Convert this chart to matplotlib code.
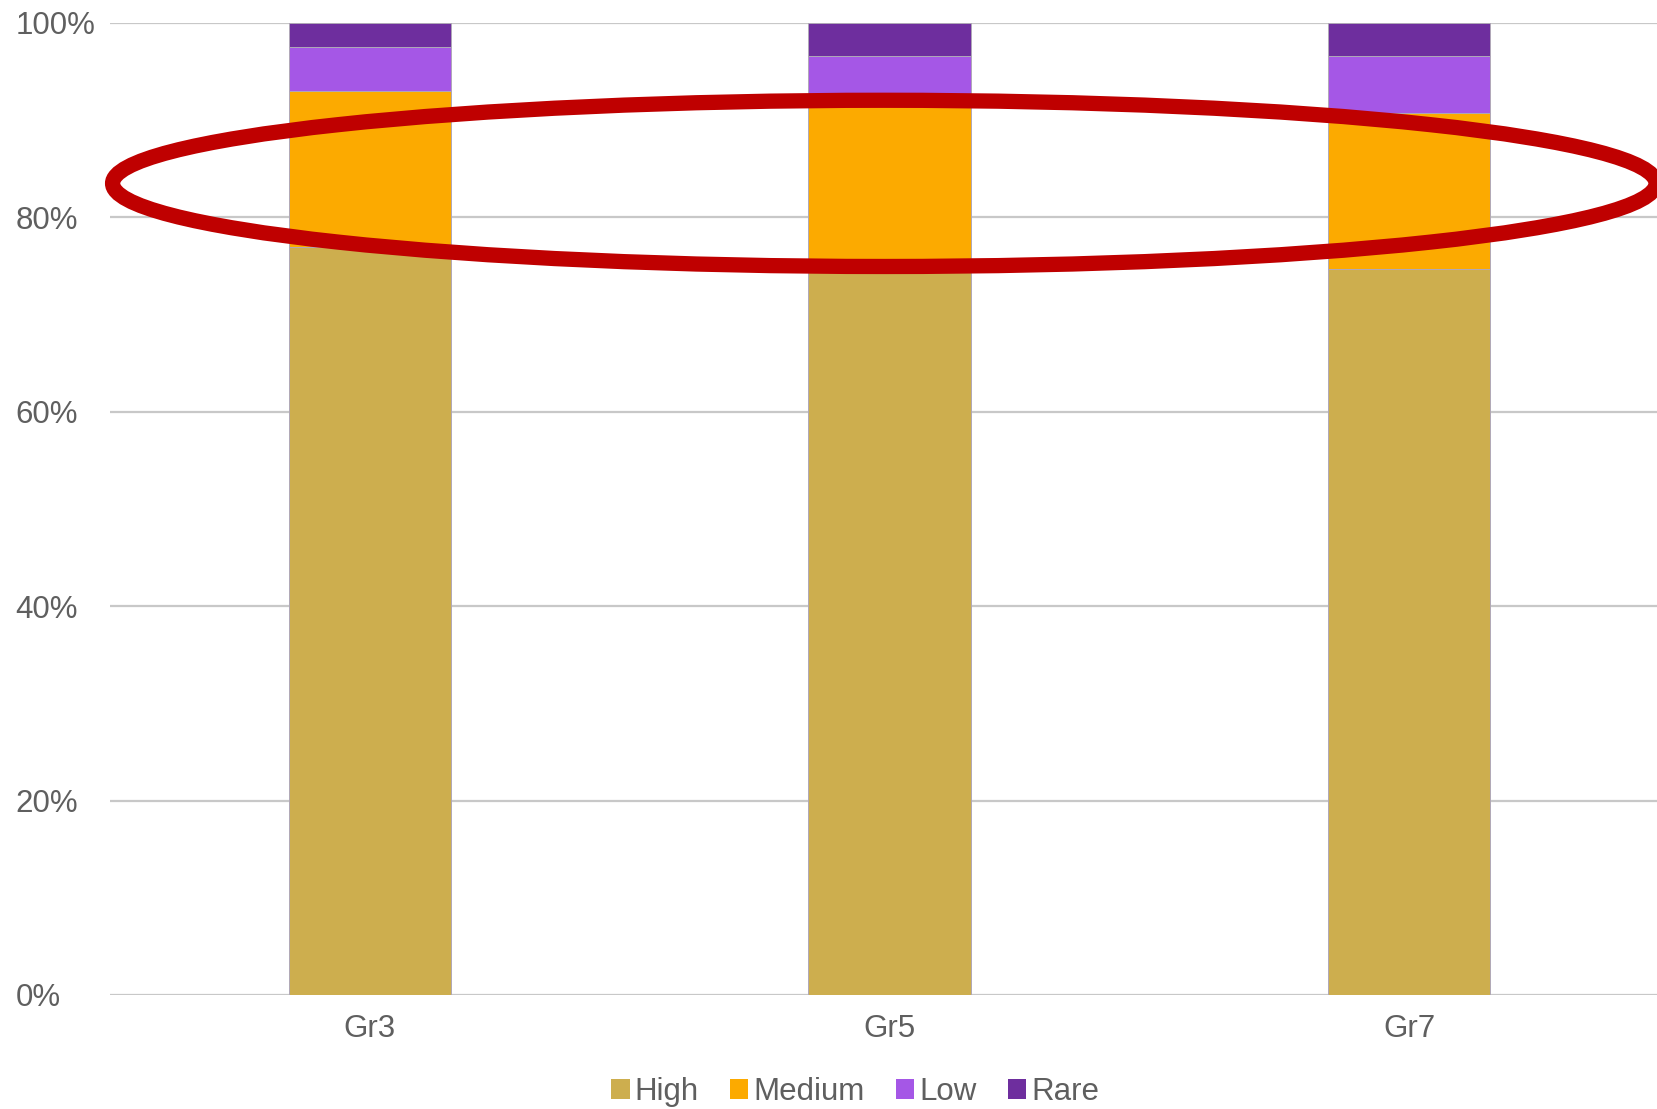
import matplotlib
matplotlib.use("Agg")
import matplotlib.pyplot as plt
from matplotlib.patches import Ellipse, Patch
from matplotlib.ticker import PercentFormatter
import numpy as np

plt.rcParams["font.family"] = ["Liberation Sans", "DejaVu Sans"]

# share of each level per grade (percent)
grades = ["Gr3", "Gr5", "Gr7"]
levels = ["High", "Medium", "Low", "Rare"]
high   = [77.0, 74.8, 74.7]
medium = [16.0, 17.5, 16.0]
low    = [4.5, 4.3, 5.9]
rare   = [2.5, 3.4, 3.4]
colors = ["#cdae4e", "#fcaa00", "#a557e6", "#6e2e9e"]

TXT = "#5f5f5f"
FS = 22.5
W, H = 1657, 1109

fig = plt.figure(figsize=(W / 100, H / 100), dpi=100)
# plot area runs a little past the right edge of the figure
left, right, bottom, top = 110, 1669, 995, 23
ax = fig.add_axes([left / W, (H - bottom) / H, (right - left) / W, (bottom - top) / H])

x = np.arange(len(grades))
base = np.zeros(len(grades))
for vals, col in zip([high, medium, low, rare], colors):
    ax.bar(x, vals, width=0.313, bottom=base, color=col,
           edgecolor="#b0a8b8", linewidth=0.7, zorder=3)
    base += np.array(vals)

ax.set_xlim(-0.5, 2.5)
ax.set_ylim(0, 100)
ax.set_yticks([0, 20, 40, 60, 80, 100])
ax.yaxis.set_major_formatter(PercentFormatter(decimals=0))
ax.grid(axis="y", color="#c8c8c8", linewidth=1.6, zorder=0)
ax.set_axisbelow(True)
for s in ax.spines.values():
    s.set_visible(False)

ax.set_xticks(x)
ax.set_xticklabels(grades)
ax.tick_params(axis="x", length=0, pad=14, labelsize=FS, labelcolor=TXT)
ax.tick_params(axis="y", length=0, pad=68, labelsize=FS, labelcolor=TXT)
for lab in ax.get_yticklabels():
    lab.set_horizontalalignment("left")

# highlight ring around the Medium band
ring = Ellipse((0.99, 83.5), width=2.97, height=17.1, fill=False,
               edgecolor="#bf0000", linewidth=11, zorder=5, clip_on=False)
ax.add_patch(ring)

handles = [Patch(facecolor=c, edgecolor="none") for c in colors]
fig.legend(handles, levels, loc="center", bbox_to_anchor=(0.516, 0.0155),
           ncol=4, frameon=False, fontsize=FS, labelcolor=TXT,
           handlelength=0.6, handleheight=0.6, handletextpad=0.15,
           columnspacing=1.0)

fig.savefig("out.png", dpi=100)
